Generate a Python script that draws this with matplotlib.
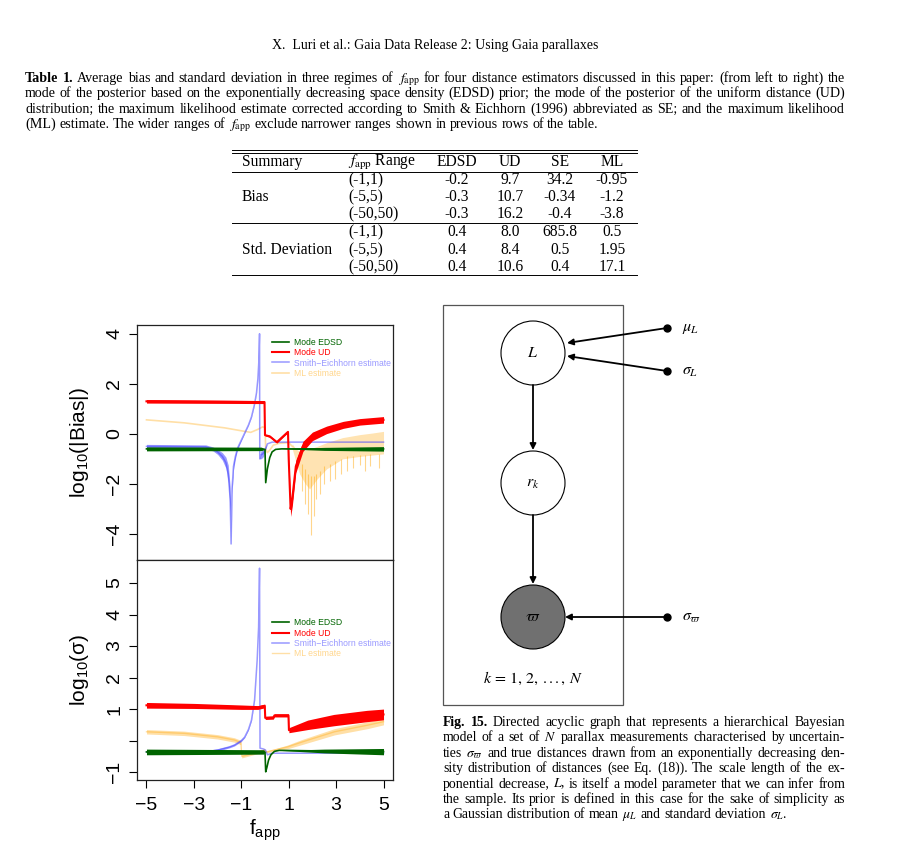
import numpy as np
import matplotlib
matplotlib.use("Agg")
import matplotlib.pyplot as plt
from matplotlib.patches import Circle, Rectangle

plt.rcParams['font.family'] = ['Liberation Serif', 'DejaVu Serif']
plt.rcParams['mathtext.fontset'] = 'stix'

# ---------------- data ----------------
fapp_ticks = [-5, -3, -1, 1, 3, 5]

# top panel: log10(|Bias|)  (x, centre y, half width of the noise band)
bias_edsd_x = [-5, -0.15, 0.0, 0.03, 0.1, 0.2, 0.3, 0.45, 0.7, 2.5, 5]
bias_edsd_y = [-0.6, -0.6, -0.62, -1.95, -1.4, -0.95, -0.72, -0.62, -0.6, -0.6, -0.6]
bias_edsd_w = [0.08, 0.07, 0, 0, 0, 0, 0, 0, 0, 0.06, 0.09]

bias_ud_x = [-5, -0.02, 0.0, 0.2, 0.5, 0.97, 1.0, 1.08, 1.15, 1.3, 1.6, 2.0, 2.6, 3.3, 4.0, 5.0]
bias_ud_y = [1.3, 1.27, -0.05, -0.1, -0.33, 0.08, -1.0, -3.0, -2.6, -1.3, -0.5, -0.1, 0.16, 0.36, 0.48, 0.56]
bias_ud_w = [0.07, 0.06, 0.03, 0.04, 0.04, 0.03, 0.15, 0.3, 0.3, 0.25, 0.2, 0.17, 0.15, 0.14, 0.13, 0.13]

bias_se_x = [-5, -2.5, -2.2, -2.0, -1.8, -1.65, -1.55, -1.47, -1.43, -1.39, -1.33, -1.25, -1.15,
             -1.0, -0.86, -0.7, -0.57, -0.45, -0.36, -0.3, -0.26, -0.23, -0.22, -0.18, -0.1, -0.05,
             0.1, 0.3, 5]
bias_se_y = [-0.5, -0.52, -0.6, -0.72, -0.9, -1.15, -1.6, -2.6, -4.4, -2.2, -1.3, -0.9, -0.55,
             -0.25, 0.03, 0.35, 0.68, 1.15, 1.63, 2.2, 2.9, 4.0, -1.0, -0.85, -0.8, -0.75,
             -0.4, -0.33, -0.33]
bias_se_w = [0.08, 0.08, 0.08, 0.1, 0.15, 0.22, 0.35, 0.5, 0, 0.2, 0.15, 0.1, 0.05,
             0.03, 0.02, 0.02, 0.02, 0.02, 0.02, 0.02, 0, 0, 0, 0.15, 0.15, 0.12,
             0, 0, 0]

bias_ml_x = [-5, -3.4, -1.7, -0.86, -0.6, -0.3, -0.1, 0.0, 0.03, 0.1, 0.2, 0.35, 0.6, 1.0, 1.15]
bias_ml_y = [0.56, 0.44, 0.24, 0.1, 0.06, 0.18, 0.28, 0.25, -0.6, -0.75, -0.65, -0.45, -0.38, -0.35, -0.5]
bias_ml_band_x = [1.15, 1.3, 1.46, 1.7, 1.88, 2.2, 2.6, 3.27, 4.0, 4.5, 5.0]
bias_ml_band_hi = [-0.4, -0.6, -0.7, -0.65, -0.6, -0.5, -0.35, -0.15, -0.03, 0.03, 0.1]
bias_ml_band_lo = [-0.6, -1.1, -1.6, -2.0, -2.2, -1.8, -1.4, -1.0, -0.9, -0.85, -0.8]
bias_ml_spike_x = [1.55, 1.7, 1.82, 1.95, 2.05, 2.15, 2.3, 2.5, 2.75, 2.95, 3.2, 3.45, 3.7, 4.0, 4.2, 4.45, 4.83]
bias_ml_spike_top = [-1.2, -1.4, -1.6, -1.7, -1.7, -1.6, -1.5, -1.3, -1.2, -1.1, -1.0, -0.9, -0.9, -0.85, -0.85, -0.8, -0.8]
bias_ml_spike_low = [-2.3, -2.8, -3.2, -4.05, -3.3, -2.6, -2.4, -2.0, -1.9, -1.8, -1.6, -1.5, -1.35, -1.25, -1.5, -1.3, -1.37]

# bottom panel: log10(sigma)
sig_edsd_x = [-5, -0.05, 0.0, 0.03, 0.08, 0.15, 0.25, 0.4, 0.6, 2.5, 5]
sig_edsd_y = [-0.36, -0.36, -0.37, -0.99, -0.85, -0.62, -0.45, -0.34, -0.31, -0.33, -0.35]
sig_edsd_w = [0.09, 0.07, 0, 0, 0, 0, 0, 0, 0, 0.06, 0.1]

sig_ud_x = [-5, -3, -1, -0.3, -0.01, 0.01, 0.35, 0.4, 0.99, 1.01, 1.8, 2.9, 4.3, 5]
sig_ud_y = [1.12, 1.1, 1.06, 1.05, 1.1, 0.72, 0.73, 0.8, 0.8, 0.33, 0.5, 0.65, 0.78, 0.83]
sig_ud_w = [0.09, 0.08, 0.07, 0.06, 0.06, 0.05, 0.05, 0.05, 0.05, 0.08, 0.15, 0.18, 0.18, 0.17]

sig_se_x = [-5, -2.5, -2.0, -1.5, -1.29, -1.0, -0.86, -0.7, -0.57, -0.44, -0.33, -0.27, -0.23,
            -0.21, -0.15, -0.05, 0.02, 0.1, 0.3, 0.5, 5]
sig_se_y = [-0.36, -0.36, -0.3, -0.2, -0.14, 0.0, 0.11, 0.35, 0.65, 1.29, 2.56, 3.6, 5.47,
            -0.24, -0.25, -0.27, -0.3, -0.45, -0.4, -0.4, -0.4]
sig_se_w = [0.06, 0.05, 0.04, 0.03, 0.03, 0.03, 0.02, 0.02, 0.02, 0.02, 0, 0, 0,
            0, 0, 0, 0, 0, 0, 0, 0]

sig_ml_x = [-5, -3.4, -2.0, -1.29, -1.02, -0.98, -0.44, -0.02, 0.05, 0.5, 0.95, 1.54, 2.93, 4.33, 5]
sig_ml_y = [0.28, 0.23, 0.12, 0.02, -0.06, -0.5, -0.4, -0.3, -0.36, -0.28, -0.2, -0.05, 0.28, 0.49, 0.6]
sig_ml_w = [0.07, 0.07, 0.07, 0.07, 0.07, 0.05, 0.04, 0.04, 0.03, 0.04, 0.06, 0.08, 0.1, 0.11, 0.1]

legend_labels = ["Mode EDSD", "Mode UD", "Smith\u2212Eichhorn estimate", "ML estimate"]

# table 1
tab_cols = ["Summary", "$f_\\mathrm{app}$ Range", "EDSD", "UD", "SE", "ML"]
tab_groups = ["Bias", "Std. Deviation"]
tab_ranges = ["(-1,1)", "(-5,5)", "(-50,50)"]
tab_edsd = ["-0.2", "-0.3", "-0.3", "0.4", "0.4", "0.4"]
tab_ud = ["9.7", "10.7", "16.2", "8.0", "8.4", "10.6"]
tab_se = ["34.2", "-0.34", "-0.4", "685.8", "0.5", "0.4"]
tab_ml = ["-0.95", "-1.2", "-3.8", "0.5", "1.95", "17.1"]

header = "X.  Luri et al.: Gaia Data Release 2: Using Gaia parallaxes"
tab_caption = [
    "Table 1. Average bias and standard deviation in three regimes of $f_\\mathrm{app}$ for four distance estimators discussed in this paper: (from left to right) the",
    "mode of the posterior based on the exponentially decreasing space density (EDSD) prior; the mode of the posterior of the uniform distance (UD)",
    "distribution; the maximum likelihood estimate corrected according to Smith & Eichhorn (1996) abbreviated as SE; and the maximum likelihood",
    "(ML) estimate. The wider ranges of $f_\\mathrm{app}$ exclude narrower ranges shown in previous rows of the table.",
]
fig_caption = [
    "Fig. 15. Directed acyclic graph that represents a hierarchical Bayesian",
    "model of a set of $N$ parallax measurements characterised by uncertain-",
    "ties $\\sigma_\\varpi$ and true distances drawn from an exponentially decreasing den-",
    "sity distribution of distances (see Eq. (18)). The scale length of the ex-",
    "ponential decrease, $L$, is itself a model parameter that we can infer from",
    "the sample. Its prior is defined in this case for the sake of simplicity as",
    "a Gaussian distribution of mean $\\mu_L$ and standard deviation $\\sigma_L$.",
]

# DAG
node_labels = ["$L$", "$r_k$", "$\\varpi$"]
node_fill = ["white", "white", "#707070"]
hyper_labels = ["$\\mu_L$", "$\\sigma_L$", "$\\sigma_\\varpi$"]

# ---------------- figure ----------------
fig = plt.figure(figsize=(9, 8.48), dpi=100)
W, H = 900, 848
page = fig.add_axes([0, 0, 1, 1])
page.set_xlim(0, W)
page.set_ylim(H, 0)
page.axis('off')
renderer = fig.canvas.get_renderer()

ax1 = fig.add_axes([137 / W, 1 - 560 / H, 256 / W, 235 / H])
ax2 = fig.add_axes([137 / W, 1 - 780 / H, 256 / W, 220 / H])

c_edsd, c_ud, c_se, c_ml = "#006400", "#ff0000", "#4646ff", "#ffa500"


def band(ax, xs, ys, ws, color, alpha, lw, z, label):
    xs, ys, ws = np.array(xs), np.array(ys), np.array(ws)
    ax.fill_between(xs, ys - ws, ys + ws, color=color, alpha=alpha, lw=0, zorder=z)
    ln, = ax.plot(xs, ys, color=color, alpha=alpha, lw=lw, zorder=z, label=label)
    return ln


# top panel
band(ax1, bias_edsd_x, bias_edsd_y, bias_edsd_w, c_edsd, 1.0, 1.2, 4, legend_labels[0])
band(ax1, bias_ud_x, bias_ud_y, bias_ud_w, c_ud, 1.0, 1.5, 3, legend_labels[1])
band(ax1, bias_se_x, bias_se_y, bias_se_w, c_se, 0.55, 1.1, 2, legend_labels[2])
ax1.plot(bias_ml_x, bias_ml_y, color=c_ml, alpha=0.35, lw=1.2, zorder=1, label=legend_labels[3])
ax1.fill_between(bias_ml_band_x, bias_ml_band_lo, bias_ml_band_hi, color=c_ml, alpha=0.3, lw=0, zorder=1)
ax1.vlines(bias_ml_spike_x, bias_ml_spike_top, bias_ml_spike_low, color=c_ml, alpha=0.45, lw=0.8, zorder=1)

# bottom panel
band(ax2, sig_edsd_x, sig_edsd_y, sig_edsd_w, c_edsd, 1.0, 1.2, 4, legend_labels[0])
band(ax2, sig_ud_x, sig_ud_y, sig_ud_w, c_ud, 1.0, 1.5, 3, legend_labels[1])
band(ax2, sig_se_x, sig_se_y, sig_se_w, c_se, 0.55, 1.1, 2, legend_labels[2])
band(ax2, sig_ml_x, sig_ml_y, sig_ml_w, c_ml, 0.35, 1.0, 1, legend_labels[3])

for ax in (ax1, ax2):
    ax.set_xlim(-5.4, 5.4)
    ax.set_xticks(fapp_ticks)
    for s in ax.spines.values():
        s.set_linewidth(0.9)
        s.set_color("#222222")
    ax.tick_params(length=6, width=0.8, labelsize=14, labelfontfamily='Liberation Sans', pad=6)
    ax.tick_params(axis='y', labelrotation=90, pad=4)
    leg = ax.legend(loc='upper left', frameon=False, handlelength=2.0,
                    handletextpad=0.6, labelspacing=0.15, borderpad=0, borderaxespad=0,
                    prop={'family': 'Liberation Sans', 'size': 6.2})
    for txt, ln in zip(leg.get_texts(), leg.get_lines()):
        txt.set_color(ln.get_color())
        txt.set_alpha(max(ln.get_alpha() or 1.0, 0.45))

ax1.get_legend().set_bbox_to_anchor((0.527, 0.945), transform=ax1.transAxes)
ax2.get_legend().set_bbox_to_anchor((0.527, 0.735), transform=ax2.transAxes)

ax1.set_ylim(-5.04, 4.35)
ax1.set_yticks([-4, -2, 0, 2, 4])
ax1.tick_params(axis='x', bottom=False, labelbottom=False)
ax2.set_ylim(-1.25, 5.73)
ax2.set_yticks([-1, 0, 1, 2, 3, 4, 5])
ax2.set_yticklabels(["\u22121", "", "1", "2", "3", "4", "5"])
for ax in (ax1, ax2):
    for t in ax.get_yticklabels():
        t.set_verticalalignment('center')

ax1.set_ylabel("log$\\mathregular{_{10}}$(|Bias|)", fontsize=15, family='Liberation Sans')
ax2.set_ylabel("log$\\mathregular{_{10}}$(\u03c3)", fontsize=15, family='Liberation Sans')
ax1.yaxis.set_label_coords(-0.18, 0.5)
ax2.yaxis.set_label_coords(-0.18, 0.5)
ax2.set_xlabel("f$\\mathregular{_{app}}$", fontsize=15, family='Liberation Sans')
ax2.xaxis.set_label_coords(0.5, -0.17)

# ---------------- page text ----------------
page.text(435, 49, header, fontsize=10, ha='center', va='baseline')


def paragraph(lines, x0, x1, y0, dy, size, nbold):
    rows = []
    for i, line in enumerate(lines):
        arts = []
        for j, w in enumerate(line.split(' ')):
            wt = 'bold' if (i == 0 and j < nbold) else 'normal'
            arts.append(page.text(x0, y0 + i * dy, w, fontsize=size, fontweight=wt,
                                  ha='left', va='baseline'))
        rows.append(arts)
    space = 0.25 * size * 100 / 72
    nat = [sum(a.get_window_extent(renderer).width for a in r) + space * (len(r) - 1)
           for r in rows[:-1]]
    if max(nat) > (x1 - x0):
        size = size * (x1 - x0) / max(nat) * 0.985
        for r in rows:
            for a in r:
                a.set_fontsize(size)
        space = 0.25 * size * 100 / 72
    for i, r in enumerate(rows):
        wd = [a.get_window_extent(renderer).width for a in r]
        gap = space if i == len(rows) - 1 else (x1 - x0 - sum(wd)) / (len(r) - 1)
        x = x0
        for a, w in zip(r, wd):
            a.set_x(x)
            x += w + gap


paragraph(tab_caption, 25, 845, 82, 15.3, 11.5, 2)
paragraph(fig_caption, 443, 845, 726, 15.4, 12, 2)

# ---------------- table ----------------
tx0, tx1 = 232, 637
for yy in [150, 153, 172, 223, 275]:
    page.plot([tx0, tx1], [yy, yy], color='k', lw=0.7)
col_x = [242, 348, 457, 510, 560, 612]
row_y = [180, 197, 214, 232, 250, 267]
tsize = 11.2
for k, name in enumerate(tab_cols):
    page.text(col_x[k], 166, name, fontsize=tsize, va='baseline',
              ha='left' if k < 2 else 'center')
for g, name in enumerate(tab_groups):
    page.text(col_x[0], row_y[3 * g + 1] + 4, name, fontsize=tsize, va='baseline')
for r in range(6):
    yb = row_y[r] + 4
    page.text(col_x[1], yb, tab_ranges[r % 3], fontsize=tsize, va='baseline')
    for k, vals in enumerate([tab_edsd, tab_ud, tab_se, tab_ml]):
        page.text(col_x[k + 2], yb, vals[r], fontsize=tsize, va='baseline', ha='center')

# ---------------- DAG ----------------
page.add_patch(Rectangle((443, 305), 180, 400, fill=False, ec='#555555', lw=0.9))
node_x, node_y, node_r = 533, [353, 483, 617], 32
for ny, lab, fc in zip(node_y, node_labels, node_fill):
    page.add_patch(Circle((node_x, ny), node_r, fc=fc, ec='k', lw=0.8, zorder=3))
    page.text(node_x, ny, lab, fontsize=11.5, ha='center', va='center', zorder=4)
hyp_x, hyp_y = 667, [328, 371, 617]
hyp_target = [(567, 343), (567, 356), (565, 617)]
arrow = dict(arrowstyle='-|>', color='k', lw=1.3, mutation_scale=9, shrinkA=0, shrinkB=0)
for hy, lab, tgt in zip(hyp_y, hyper_labels, hyp_target):
    page.plot([hyp_x], [hy], 'o', color='k', ms=5, zorder=5)
    page.annotate('', xy=tgt, xytext=(hyp_x, hy), arrowprops=arrow, zorder=5)
    page.text(682, hy, lab, fontsize=11.5, ha='left', va='center')
for a, b in zip(node_y[:-1], node_y[1:]):
    page.annotate('', xy=(node_x, b - node_r - 1), xytext=(node_x, a + node_r),
                  arrowprops=arrow, zorder=5)
page.text(node_x, 678, "$k\\,=\\,1,\\,2,\\,...,\\,N$", fontsize=11.5, ha='center', va='center')

fig.savefig("out.png", dpi=100, facecolor='white')
